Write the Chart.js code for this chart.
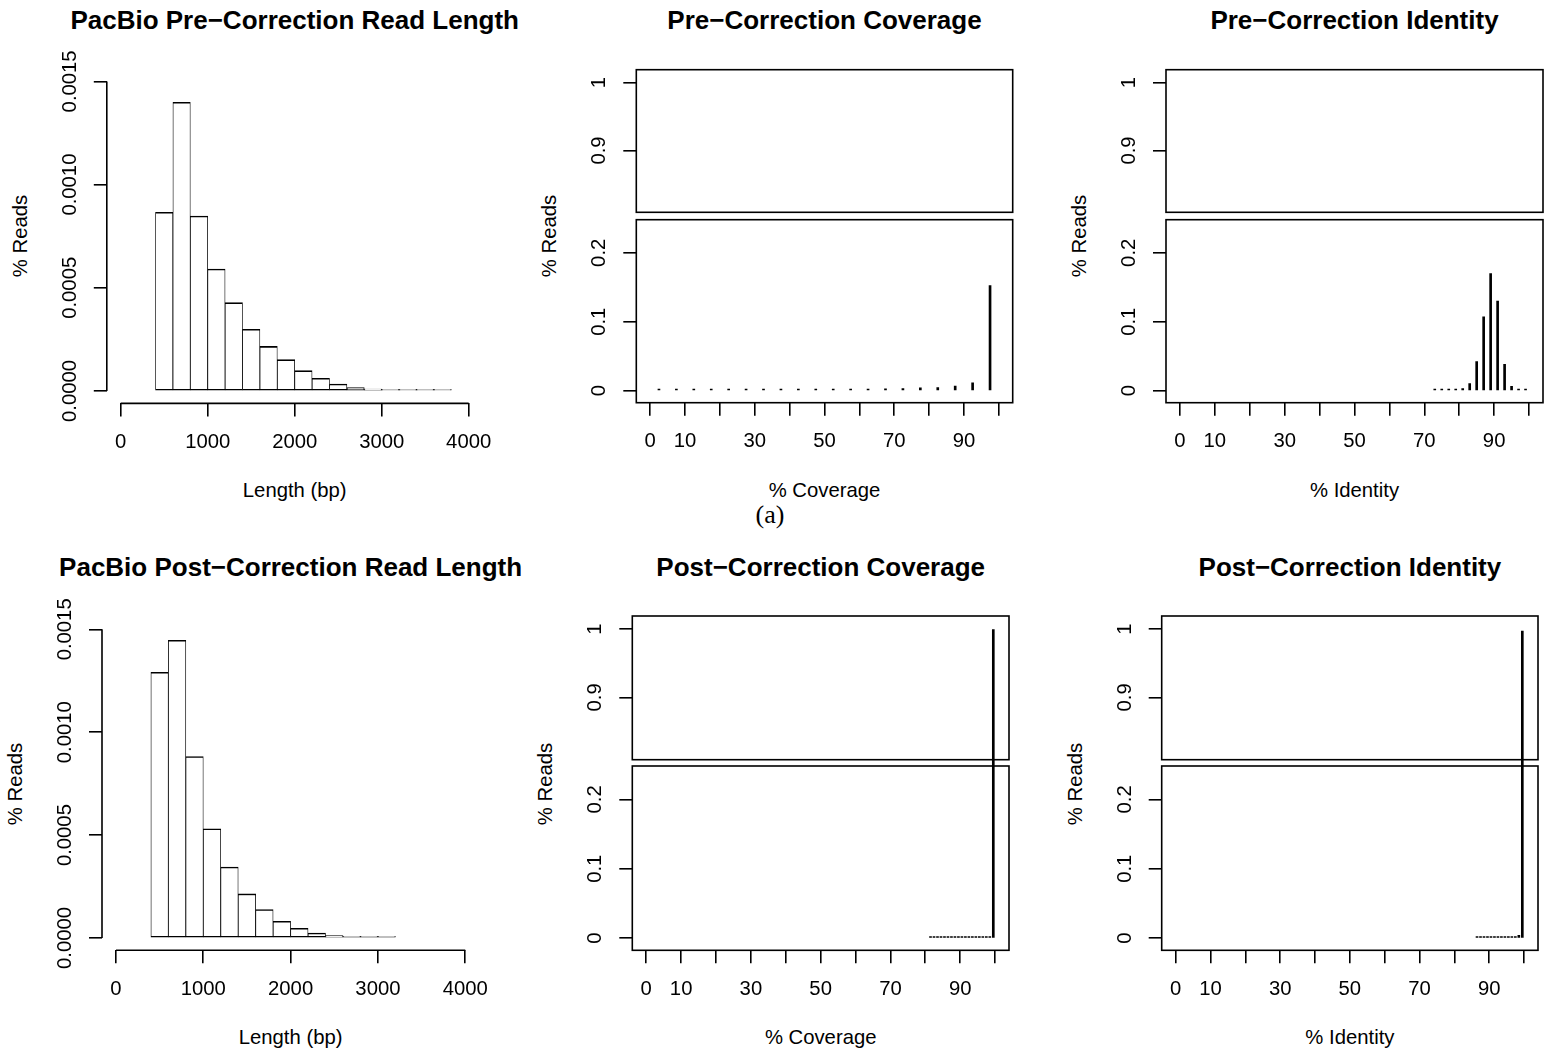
<!DOCTYPE html>
<html>
<head>
<meta charset="utf-8">
<script src="https://cdn.jsdelivr.net/npm/chart.js@4.4.0/dist/chart.umd.min.js"></script>
<style>
  html, body { margin: 0; padding: 0; background: #fff; }
  #fig { position: relative; width: 1547px; height: 1052px; overflow: hidden; background: #fff; }
  #fig canvas { position: absolute; }
  .t { position: absolute; transform: translate(-50%, -50%); white-space: nowrap; line-height: 1;
       font-family: 'Liberation Sans', Arial, sans-serif; color: #000; }
  .main { font-size: 26px; font-weight: bold; }
  .ax { font-size: 20.3px; }
  .rot { transform: translate(-50%, -50%) rotate(-90deg); }
  .cap { font-family: 'Liberation Serif', 'Times New Roman', serif; font-size: 26px; }
</style>
</head>
<body>
<div id="fig">
  <div class="t main" style="left:294.7px;top:20px">PacBio Pre−Correction Read Length</div>
  <div class="t main" style="left:824.5px;top:20px">Pre−Correction Coverage</div>
  <div class="t main" style="left:1354.5px;top:20px">Pre−Correction Identity</div>
  <div class="t main" style="left:290.6px;top:567.3px">PacBio Post−Correction Read Length</div>
  <div class="t main" style="left:820.7px;top:567.3px">Post−Correction Coverage</div>
  <div class="t main" style="left:1349.9px;top:567.3px">Post−Correction Identity</div>

  <div class="t ax" style="left:294.7px;top:489.5px">Length (bp)</div>
  <div class="t ax" style="left:824.5px;top:489.5px">% Coverage</div>
  <div class="t ax" style="left:1354.5px;top:489.5px">% Identity</div>
  <div class="t ax" style="left:290.6px;top:1036.8px">Length (bp)</div>
  <div class="t ax" style="left:820.7px;top:1036.8px">% Coverage</div>
  <div class="t ax" style="left:1349.9px;top:1036.8px">% Identity</div>

  <div class="t ax rot" style="left:20px;top:236px">% Reads</div>
  <div class="t ax rot" style="left:549.3px;top:236px">% Reads</div>
  <div class="t ax rot" style="left:1079px;top:236px">% Reads</div>
  <div class="t ax rot" style="left:15px;top:783.6px">% Reads</div>
  <div class="t ax rot" style="left:545.3px;top:783.6px">% Reads</div>
  <div class="t ax rot" style="left:1074.7px;top:783.6px">% Reads</div>

  <div class="t cap" style="left:770px;top:515px">(a)</div>
</div>
<script>
// read length histograms (bin mid points, density)
const preLengthBins = [500, 700, 900, 1100, 1300, 1500, 1700, 1900, 2100, 2300, 2500, 2700, 2900, 3100, 3300, 3500, 3700];
const preLengthDensity = [0.000866, 0.001399, 0.000848, 0.000591, 0.000428, 0.000299, 0.000216, 0.000152, 0.0000985,
  0.0000614, 0.0000339, 0.0000162, 0.0000097, 0.0000048, 0.000003, 0.0000016, 0.0000012];
const postLengthBins = [500, 700, 900, 1100, 1300, 1500, 1700, 1900, 2100, 2300, 2500, 2700, 2900, 3100];
const postLengthDensity = [0.001291, 0.001447, 0.000882, 0.000531, 0.000345, 0.000214, 0.000138, 0.0000809,
  0.0000469, 0.0000243, 0.0000113, 0.0000065, 0.000003, 0.0000016];

// coverage / identity spikes
const preCoverageBins = [2.5, 7.5, 12.5, 17.5, 22.5, 27.5, 32.5, 37.5, 42.5, 47.5, 52.5, 57.5, 62.5, 67.5, 72.5, 77.5, 82.5, 87.5, 92.5, 97.5];
const preCoverageFraction = [0.001, 0.001, 0.0012, 0.0013, 0.0014, 0.0015, 0.0016, 0.0017, 0.0018, 0.0019,
  0.002, 0.0022, 0.0024, 0.0026, 0.003, 0.004, 0.0045, 0.0065, 0.0112, 0.1525];
const preIdentityBins = [73, 75, 77, 79, 81, 83, 85, 87, 89, 91, 93, 95, 97, 99];
const preIdentityFraction = [0.001, 0.001, 0.001, 0.0015, 0.003, 0.0102, 0.042, 0.107, 0.170, 0.130, 0.038, 0.0063, 0.0015, 0.0012];
const postCoverageBins = [81.5, 82.5, 83.5, 84.5, 85.5, 86.5, 87.5, 88.5, 89.5, 90.5, 91.5, 92.5, 93.5, 94.5, 95.5, 96.5, 97.5, 98.5, 99.5];
const postCoverageFraction = [0.0004, 0.0004, 0.0004, 0.0004, 0.0005, 0.0005, 0.0005, 0.0005, 0.0005, 0.0006,
  0.0006, 0.0006, 0.0007, 0.0007, 0.0008, 0.0009, 0.001, 0.0014, 0.999];
const postIdentityBins = [86.5, 87.5, 88.5, 89.5, 90.5, 91.5, 92.5, 93.5, 94.5, 95.5, 96.5, 97.5, 98.5, 99.5];
const postIdentityFraction = [0.0004, 0.0004, 0.0005, 0.0005, 0.0005, 0.0006, 0.0006, 0.0007, 0.0008, 0.0009,
  0.0011, 0.0015, 0.004, 0.997];

// ticks
const lengthTicks = [0, 1000, 2000, 3000, 4000];
const lengthTickLabels = ['0', '1000', '2000', '3000', '4000'];
const densityTicks = [0, 0.0005, 0.001, 0.0015];
const densityTickLabels = ['0.0000', '0.0005', '0.0010', '0.0015'];
const percentTicks = [0, 10, 20, 30, 40, 50, 60, 70, 80, 90, 100];
const percentTickLabels = ['0', '10', '', '30', '', '50', '', '70', '', '90', ''];
const lowerTicks = [0, 0.1, 0.2];
const lowerTickLabels = ['0', '0.1', '0.2'];
const upperTicks = [0.9, 1];
const upperTickLabels = ['0.9', '1'];

const TICK = 13, LW = 1.6, FS = 20.3;
const PAD = 40, YW = 70, XH = 60;

Chart.defaults.font.family = 'Liberation Sans';
Chart.defaults.color = '#000';

const meter = document.createElement('canvas').getContext('2d');
meter.font = FS + 'px Liberation Sans';
// padding so the rotated label centre sits ~36.5px left of the axis
function yPad(labels) {
  const w = Math.max(...labels.map(s => meter.measureText(s).width));
  return 36.5 - TICK - w / 2;
}

const rAxes = {
  id: 'rAxes',
  afterDraw(chart, args, opts) {
    const { ctx, chartArea: a } = chart;
    ctx.save();
    ctx.strokeStyle = '#000';
    ctx.lineWidth = LW;
    if (opts.box) ctx.strokeRect(a.left, a.top, a.right - a.left, a.bottom - a.top);
    if (opts.lines) {
      const x = chart.scales.x, y = chart.scales.y;
      const xt = x.ticks, yt = y.ticks;
      ctx.beginPath();
      ctx.moveTo(x.getPixelForValue(xt[0].value), a.bottom);
      ctx.lineTo(x.getPixelForValue(xt[xt.length - 1].value), a.bottom);
      ctx.moveTo(a.left, y.getPixelForValue(yt[0].value));
      ctx.lineTo(a.left, y.getPixelForValue(yt[yt.length - 1].value));
      ctx.stroke();
    }
    ctx.restore();
  }
};

function xScale(min, max, ticks, labels, show) {
  return {
    type: 'linear', min, max, offset: false, display: show,
    afterBuildTicks: s => { s.ticks = ticks.map(v => ({ value: v })); },
    afterFit: s => { s.height = show ? XH : 0; },
    grid: { offset: false, drawOnChartArea: false, color: '#000', lineWidth: LW, tickLength: TICK },
    border: { display: false },
    ticks: { autoSkip: false, minRotation: 0, maxRotation: 0, padding: 14,
      font: { size: FS }, color: '#000', callback: (v, i) => labels[i] }
  };
}

function yScale(min, max, ticks, labels) {
  return {
    type: 'linear', min, max,
    afterBuildTicks: s => { s.ticks = ticks.map(v => ({ value: v })); },
    afterFit: s => { s.width = YW; },
    grid: { drawOnChartArea: false, color: '#000', lineWidth: LW, tickLength: TICK },
    border: { display: false },
    ticks: { autoSkip: false, minRotation: 90, maxRotation: 90, crossAlign: 'center', padding: yPad(labels),
      font: { size: FS }, color: '#000', callback: (v, i) => labels[i] }
  };
}

function mount(area, showX) {
  const c = document.createElement('canvas');
  const left = Math.floor(area.l - YW - PAD), top = Math.floor(area.t - PAD);
  const right = Math.ceil(area.r + PAD), bottom = Math.ceil(area.b + (showX ? XH : 0) + PAD);
  c.width = right - left;
  c.height = bottom - top;
  c.style.left = left + 'px';
  c.style.top = top + 'px';
  document.getElementById('fig').appendChild(c);
  return {
    canvas: c,
    padding: { left: area.l - YW - left, top: area.t - top, right: right - area.r, bottom: bottom - area.b - (showX ? XH : 0) }
  };
}

function baseOptions(padding, scales, frame) {
  return {
    responsive: false, animation: false, devicePixelRatio: 1,
    layout: { padding },
    plugins: { legend: { display: false }, tooltip: { enabled: false }, rAxes: frame },
    scales
  };
}

function histogram(area, bins, dens) {
  const m = mount(area, true);
  new Chart(m.canvas, {
    type: 'bar',
    data: {
      datasets: [{
        data: bins.map((x, i) => ({ x, y: dens[i] })),
        backgroundColor: '#fff', borderColor: '#000',
        borderWidth: { top: LW, bottom: LW, left: LW / 2, right: LW / 2 },
        borderSkipped: false, minBarLength: 1.6,
        barPercentage: 1, categoryPercentage: 1, clip: 0
      }]
    },
    options: baseOptions(m.padding, {
      x: xScale(-160, 4160, lengthTicks, lengthTickLabels, true),
      y: yScale(-0.00006, 0.00156, densityTicks, densityTickLabels)
    }, { lines: true }),
    plugins: [rAxes]
  });
}

function spikes(hiArea, loArea, bins, vals) {
  const data = bins.map((x, i) => ({ x, y: vals[i] }));
  const hi = mount(hiArea, false);
  new Chart(hi.canvas, {
    type: 'bar',
    data: { datasets: [{ data, backgroundColor: '#000', borderWidth: 0, barThickness: 2, clip: 0 }] },
    options: baseOptions(hi.padding, {
      x: xScale(-4, 104, percentTicks, percentTickLabels, false),
      y: yScale(0.809, 1.019, upperTicks, upperTickLabels)
    }, { box: true }),
    plugins: [rAxes]
  });
  const lo = mount(loArea, true);
  new Chart(lo.canvas, {
    type: 'bar',
    data: { datasets: [{ data, backgroundColor: '#000', borderWidth: 0, barThickness: 2, minBarLength: 1.5,
      clip: { left: 0, right: 0, bottom: 0, top: loArea.t - hiArea.b } }] },
    options: baseOptions(lo.padding, {
      x: xScale(-4, 104, percentTicks, percentTickLabels, true),
      y: yScale(-0.0175, 0.248, lowerTicks, lowerTickLabels)
    }, { box: true }),
    plugins: [rAxes]
  });
}

histogram({ l: 106.8, r: 482.6, t: 69, b: 403.4 }, preLengthBins, preLengthDensity);
histogram({ l: 102, r: 479.2, t: 617, b: 950.3 }, postLengthBins, postLengthDensity);

spikes({ l: 636.3, r: 1012.7, t: 69.7, b: 212.3 }, { l: 636.3, r: 1012.7, t: 219.7, b: 402.7 }, preCoverageBins, preCoverageFraction);
spikes({ l: 1166, r: 1543, t: 69.7, b: 212.3 }, { l: 1166, r: 1543, t: 219.7, b: 402.7 }, preIdentityBins, preIdentityFraction);
spikes({ l: 632.3, r: 1009, t: 616, b: 759.7 }, { l: 632.3, r: 1009, t: 766, b: 950.3 }, postCoverageBins, postCoverageFraction);
spikes({ l: 1161.7, r: 1538, t: 616, b: 759.7 }, { l: 1161.7, r: 1538, t: 766, b: 950.3 }, postIdentityBins, postIdentityFraction);
</script>
</body>
</html>
